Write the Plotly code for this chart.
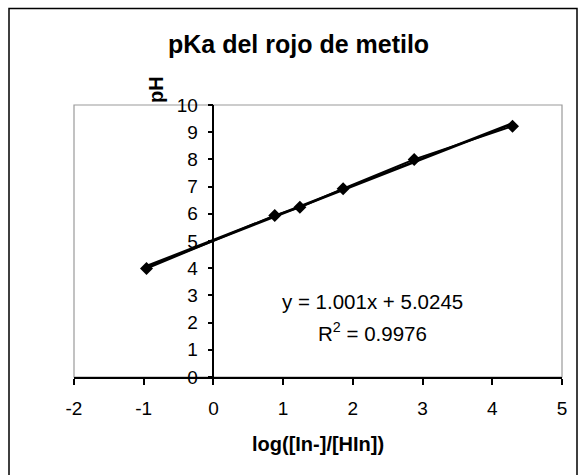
import plotly.graph_objects as go

# Data
log_ratio = [-0.96, 0.88, 1.24, 1.86, 2.88, 4.29]
ph_values = [3.99, 5.94, 6.24, 6.92, 8.00, 9.22]

# Linear trendline coefficients shown on the chart
slope = 1.001
intercept = 5.0245

x_ticks = [-2, -1, 0, 1, 2, 3, 4, 5]
y_ticks = [0, 1, 2, 3, 4, 5, 6, 7, 8, 9, 10]

title_text = "pKa del rojo de metilo"
x_title = "log([In-]/[HIn])"
y_title = "pH"
eq_text = "y = 1.001x + 5.0245"
r2_text = "R<sup>2</sup> = 0.9976"

FONT = "Liberation Sans, Arial, sans-serif"

W, H = 578, 475
L, R, T, B = 74, 16, 105, 98
pw, ph = W - L - R, H - T - B


def px_x(px):
    return (px - L) / pw


def px_y(py):
    return 1 - (py - T) / ph


trend_x = [min(log_ratio), max(log_ratio)]
trend_y = [slope * v + intercept for v in trend_x]

fig = go.Figure()

fig.add_trace(go.Scatter(
    x=log_ratio, y=ph_values, mode="lines+markers",
    line=dict(color="black", width=2),
    marker=dict(symbol="diamond", size=10, color="black"),
    showlegend=False, cliponaxis=False,
))
fig.add_trace(go.Scatter(
    x=trend_x, y=trend_y, mode="lines",
    line=dict(color="black", width=3),
    showlegend=False,
))

fig.update_layout(
    width=W, height=H,
    margin=dict(l=L, r=R, t=T, b=B, pad=0),
    paper_bgcolor="white", plot_bgcolor="white",
    font=dict(family=FONT, size=19, color="black"),
    xaxis=dict(
        range=[-2, 5], tickvals=x_ticks, ticktext=[str(v) for v in x_ticks],
        showgrid=False, zeroline=False,
        showline=True, linecolor="black", linewidth=1.5,
        ticks="outside", ticklen=6, tickwidth=1.5, tickcolor="black",
        ticklabelstandoff=7,
        tickfont=dict(size=19, family=FONT),
    ),
    yaxis=dict(
        range=[0, 10], tickvals=y_ticks, ticktext=[str(v) for v in y_ticks],
        showgrid=False, zeroline=False,
        anchor="free", position=2 / 7,
        showline=True, linecolor="black", linewidth=1.5,
        ticks="outside", ticklen=5, tickwidth=1.5, tickcolor="black",
        ticklabelstandoff=6,
        tickfont=dict(size=19, family=FONT),
    ),
    shapes=[
        # plot area frame (gray)
        dict(type="rect", xref="paper", yref="paper", x0=0, y0=0, x1=1, y1=1,
             line=dict(color="#9a9a9a", width=1.2), layer="below"),
        # outer chart frame
        dict(type="rect", xref="paper", yref="paper",
             x0=px_x(9), y0=px_y(490), x1=px_x(577), y1=px_y(8.5),
             line=dict(color="black", width=1.5), layer="below"),
    ],
    annotations=[
        dict(text="<b>" + title_text + "</b>", xref="paper", yref="paper",
             x=px_x(298), y=px_y(44), xanchor="center", yanchor="middle",
             showarrow=False, font=dict(size=25, family=FONT)),
        dict(text="<b>" + x_title + "</b>", xref="paper", yref="paper",
             x=px_x(318), y=px_y(444), xanchor="center", yanchor="middle",
             showarrow=False, font=dict(size=20, family=FONT)),
        dict(text="<b>" + y_title + "</b>", xref="paper", yref="paper",
             x=px_x(156), y=px_y(90), xanchor="center", yanchor="middle",
             textangle=-90, showarrow=False, font=dict(size=20, family=FONT)),
        dict(text=eq_text, xref="x", yref="y", x=2.275, y=2.78,
             xanchor="center", yanchor="middle", showarrow=False,
             font=dict(size=20.5, family=FONT)),
        dict(text=r2_text, xref="x", yref="y", x=2.275, y=1.64,
             xanchor="center", yanchor="middle", showarrow=False,
             font=dict(size=20.5, family=FONT)),
    ],
)

fig.write_html(
    "out.html",
    config={"displayModeBar": False},
    post_script="document.body.style.margin='0';document.body.style.padding='0';",
)
